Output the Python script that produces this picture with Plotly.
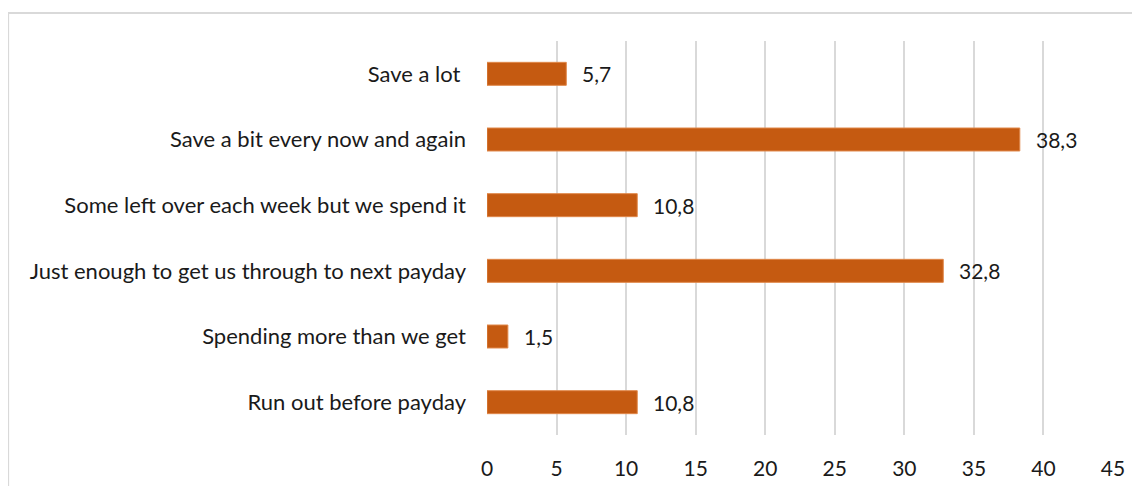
import plotly.graph_objects as go

categories = ["Run out before payday", "Spending more than we get",
              "Just enough to get us through to next payday",
              "Some left over each week but we spend it",
              "Save a bit every now and again", "Save a lot "]
values = [10.8, 1.5, 32.8, 10.8, 38.3, 5.7]
x_ticks = [0, 5, 10, 15, 20, 25, 30, 35, 40, 45]

FONT = "Lato"
FS = 21
fig = go.Figure()
fig.add_trace(go.Bar(
    y=categories, x=values, orientation="h", width=0.35,
    marker=dict(color="#C55A11", line=dict(color="#E0884A", width=1)),
    hoverinfo="skip",
))
for c, v in zip(categories, values):
    fig.add_annotation(x=v, y=c, text=f"{v:.1f}".replace(".", ","),
                       showarrow=False, xanchor="left", xshift=14,
                       font=dict(family=FONT, size=FS, color="#1a1a1a"))

fig.add_shape(type="rect", xref="paper", yref="paper",
              x0=-0.765, x1=1.2, y0=-0.3, y1=1.071,
              line=dict(color="#D9D9D9", width=2), layer="below")

fig.update_layout(
    width=1132, height=478,
    margin=dict(l=479, r=27, t=33, b=51, autoexpand=False),
    paper_bgcolor="white", plot_bgcolor="white",
    showlegend=False,
    font=dict(family=FONT, size=FS, color="#1a1a1a"),
    xaxis=dict(range=[0, 45], tickvals=x_ticks, showgrid=True,
               gridcolor="#D9D9D9", gridwidth=1.5, zeroline=False,
               showline=False, ticklabelstandoff=19, fixedrange=True,
               automargin=False),
    yaxis=dict(showgrid=False, zeroline=False, showline=False,
               ticklabelstandoff=20, fixedrange=True, automargin=False,
               tickfont=dict(size=22)),
)
fig.write_html("out.html")
